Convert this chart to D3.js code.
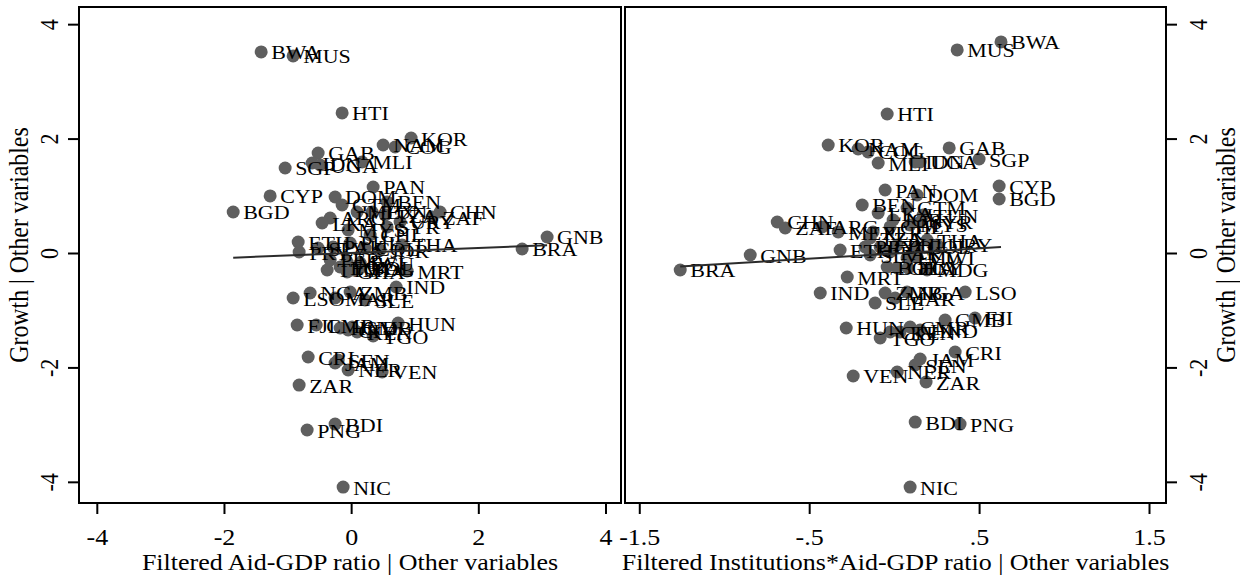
<!DOCTYPE html>
<html>
<head>
<meta charset="utf-8">
<script src="https://cdn.jsdelivr.net/npm/d3@7"></script>
<style>
  body { margin: 0; background: #fff; }
  text { font-family: "Liberation Serif", "Times New Roman", serif; }
</style>
</head>
<body>
<svg id="drawing_region"></svg>
<script>
// country codes, one per point
const countries = ["BWA","MUS","HTI","KOR","NAM","COG","GAB","SGP","IDN","UGA",
  "MLI","CYP","BGD","PAN","DOM","BEN","CHN","ZAF","GNB","BRA",
  "ETH","PRY","THA","MRT","IND","LSO","NGA","ZMB","SLE","MAR",
  "HUN","FJI","CMR","HND","CIV","KEN","TGO","GMB","CRI","JAM",
  "SEN","NER","VEN","ZAR","BDI","PNG","NIC","MEX","ARG","GTM",
  "SYR","TUN","MWI","PHL","LKA","PAK","COL","SLV","ECU","URY",
  "JOR","MYS","CHL","TTO","PER","BOL","GHA","EGY","MDG","TZA"];

// left panel: filtered aid-GDP ratio (x) and growth (y), partialled
const aidX = [-1.415,-0.912,-0.142,0.943,0.503,0.692,-0.519,-1.038,-0.613,-0.487,
  0.173,-1.274,-1.855,0.346,-0.252,0.566,1.399,1.274,3.082,2.689,
  -0.833,-0.818,0.802,0.881,0.708,-0.912,-0.645,-0.016,0.220,-0.252,
  0.739,-0.849,-0.550,-0.173,-0.047,0.094,0.346,0.016,-0.676,-0.252,
  -0.204,-0.047,0.487,-0.818,-0.252,-0.692,-0.126,0.094,-0.330,-0.142,
  0.566,0.330,-0.063,-0.016,-0.456,-0.283,0.220,-0.519,0.142,0.770,
  0.456,-0.047,0.299,-0.377,-0.330,0.142,-0.063,-0.173,0.031,0.535];
const aidY = [3.514,3.444,2.448,2.010,1.888,1.853,1.748,1.486,1.573,1.538,
  1.591,0.997,0.717,1.154,0.979,0.892,0.717,0.629,0.280,0.070,
  0.192,0.017,0.140,-0.315,-0.594,-0.787,-0.699,-0.682,-0.822,-0.787,
  -1.224,-1.259,-1.259,-1.311,-1.346,-1.381,-1.451,-1.294,-1.818,-1.923,
  -1.871,-2.045,-2.080,-2.308,-2.990,-3.094,-4.091,0.717,0.612,0.839,
  0.455,0.717,-0.157,0.175,0.524,0.105,0.087,0.087,-0.175,0.542,
  0.052,0.402,0.315,-0.297,-0.122,-0.262,-0.332,-0.245,-0.297,0.664];

// right panel: filtered institutions*aid-GDP ratio (x) and growth (y), partialled
const instX = [0.629,0.371,-0.041,-0.388,-0.212,-0.153,0.324,0.500,0.124,0.153,
  -0.094,0.618,0.618,-0.053,0.135,-0.188,-0.688,-0.641,-0.847,-1.259,
  -0.318,-0.171,0.194,-0.276,-0.435,0.418,0.076,-0.053,-0.112,0.006,
  -0.282,0.476,0.094,0.153,-0.024,0.035,-0.082,0.300,0.359,0.153,
  0.124,0.018,-0.241,0.188,0.124,0.388,0.094,-0.329,-0.424,0.076,
  0.153,0.171,0.135,0.018,-0.094,-0.024,0.135,-0.141,0.076,0.253,
  -0.006,0.094,-0.024,-0.082,-0.124,-0.041,0.018,0.082,0.194,-0.141];
const instY = [3.689,3.549,2.430,1.888,1.818,1.766,1.836,1.643,1.591,1.591,
  1.573,1.171,0.944,1.101,1.014,0.839,0.542,0.437,-0.035,-0.297,
  0.052,0.105,0.227,-0.420,-0.699,-0.682,-0.682,-0.699,-0.874,-0.787,
  -1.311,-1.136,-1.294,-1.346,-1.381,-1.381,-1.486,-1.171,-1.731,-1.853,
  -1.958,-2.080,-2.150,-2.255,-2.955,-2.990,-4.091,0.367,0.455,0.787,
  0.542,0.664,-0.070,0.140,0.699,0.017,0.105,-0.035,-0.087,0.140,
  0.577,0.490,0.455,0.105,0.367,-0.245,-0.262,-0.262,-0.297,0.262];

// tick values
const growthTicks = [-4, -2, 0, 2, 4];
const aidTicks = [-4, -2, 0, 2, 4];
const instTicks = [-1.5, -0.5, 0.5, 1.5];

// fitted line: [intercept, slope]
const aidFit = [0.0, 0.044];
const instFit = [-0.01, 0.18];

// the picture is squashed vertically, so the text is too
const SQ = 0.85;

const svg = d3.select('#drawing_region')
    .attr('width', 1240)
    .attr('height', 577);

// stata style numbers: "-.5", ".5"
const stataFmt = d => String(d).replace('0.', '.');

function drawPanel(cfg) {
    const xscale = d3.scaleLinear().domain(cfg.xdomain).range([cfg.left, cfg.right]);
    const yscale = d3.scaleLinear().domain([-4.37, 4.30]).range([503, 7]);

    const g = svg.append('g');

    // x axis
    const xaxis = d3.axisBottom(xscale)
        .tickValues(cfg.xticks)
        .tickFormat(stataFmt)
        .tickSize(11)
        .tickSizeOuter(0);
    const xg = g.append('g')
        .attr('transform', 'translate(0, 503)')
        .call(xaxis);
    xg.select('.domain').remove();
    xg.selectAll('line').attr('stroke', '#000').attr('stroke-width', 2);
    xg.selectAll('text')
        .attr('font-family', '"Liberation Serif", serif')
        .attr('font-size', 26)
        .attr('fill', '#000')
        .attr('y', 0)
        .attr('dy', 0)
        .attr('transform', `translate(0, 42) scale(1, ${SQ})`);

    // y axis
    const yaxis = (cfg.yside === 'left' ? d3.axisLeft(yscale) : d3.axisRight(yscale))
        .tickValues(growthTicks)
        .tickFormat(stataFmt)
        .tickSize(11)
        .tickSizeOuter(0);
    const yx = cfg.yside === 'left' ? cfg.left : cfg.right;
    const yg = g.append('g')
        .attr('transform', `translate(${yx}, 0)`)
        .call(yaxis);
    yg.select('.domain').remove();
    yg.selectAll('line').attr('stroke', '#000').attr('stroke-width', 2);
    yg.selectAll('text')
        .attr('font-family', '"Liberation Serif", serif')
        .attr('font-size', 26)
        .attr('fill', '#000')
        .attr('text-anchor', 'middle')
        .attr('x', 0)
        .attr('dy', 0)
        .attr('transform', `translate(${cfg.ylabelOffset}, 0) rotate(-90) scale(${SQ}, 1)`);

    // frame
    g.append('rect')
        .attr('x', cfg.left)
        .attr('y', 7)
        .attr('width', cfg.right - cfg.left)
        .attr('height', 496)
        .attr('fill', 'none')
        .attr('stroke', '#000')
        .attr('stroke-width', 2);

    const idx = d3.range(countries.length);

    g.selectAll('circle')
        .data(idx)
        .enter()
        .append('circle')
        .attr('cx', i => xscale(cfg.xs[i]))
        .attr('cy', i => yscale(cfg.ys[i]))
        .attr('r', 6.5)
        .attr('fill', '#5f5f5f');

    g.selectAll('text.lbl')
        .data(idx)
        .enter()
        .append('text')
        .attr('class', 'lbl')
        .attr('transform', i => `translate(${xscale(cfg.xs[i]) + 10}, ${yscale(cfg.ys[i]) + 7.5}) scale(1, ${SQ})`)
        .attr('font-size', 22)
        .attr('fill', '#000')
        .text(i => countries[i]);

    // fitted line over the x range of the data
    const xext = d3.extent(cfg.xs);
    g.append('line')
        .attr('x1', xscale(xext[0]))
        .attr('y1', yscale(cfg.fit[0] + cfg.fit[1] * xext[0]))
        .attr('x2', xscale(xext[1]))
        .attr('y2', yscale(cfg.fit[0] + cfg.fit[1] * xext[1]))
        .attr('stroke', '#2b2b2b')
        .attr('stroke-width', 2);

    // axis titles
    g.append('text')
        .attr('transform', `translate(${(cfg.left + cfg.right) / 2}, 570) scale(1, ${SQ})`)
        .attr('text-anchor', 'middle')
        .attr('font-size', 26)
        .attr('fill', '#000')
        .text(cfg.xtitle);

    g.append('text')
        .attr('transform', `translate(${cfg.ytitleX}, 245) rotate(-90) scale(${SQ}, 1)`)
        .attr('text-anchor', 'middle')
        .attr('font-size', 28)
        .attr('fill', '#000')
        .text('Growth | Other variables');
}

drawPanel({
    left: 79, right: 621,
    xdomain: [-4.28, 4.244],
    xticks: aidTicks,
    xs: aidX, ys: aidY,
    fit: aidFit,
    yside: 'left',
    ylabelOffset: -21,
    ytitleX: 28,
    xtitle: 'Filtered Aid-GDP ratio | Other variables'
});

drawPanel({
    left: 625, right: 1166,
    xdomain: [-1.584, 1.60],
    xticks: instTicks,
    xs: instX, ys: instY,
    fit: instFit,
    yside: 'right',
    ylabelOffset: 41,
    ytitleX: 1235,
    xtitle: 'Filtered Institutions*Aid-GDP ratio | Other variables'
});
</script>
</body>
</html>
